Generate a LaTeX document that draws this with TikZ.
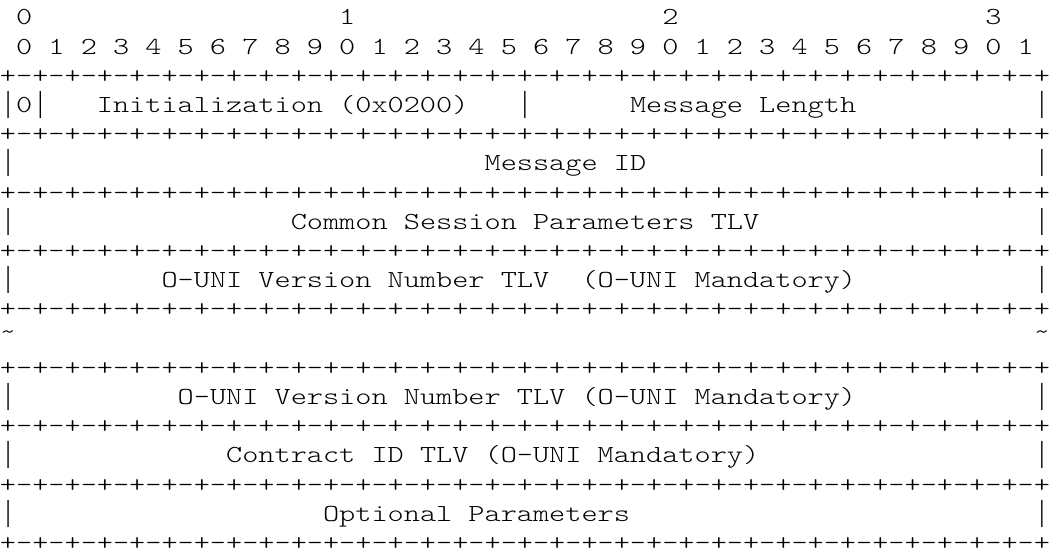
\documentclass[tikz,border=0pt]{standalone}
\usepackage{fontspec}
\usepackage{graphicx}
\newfontfamily\asciimono{lmmonolt10-regular.otf}
\newfontfamily\barmono{Liberation Mono}
\tikzset{cell/.style={anchor=base west, inner sep=0pt, outer sep=0pt,
  font=\asciimono\fontsize{24.5pt}{29pt}\selectfont\frenchspacing}}
% column #2 (0..64), row #3 (0..18)
\newcommand\cellat[4]{\node[cell] (#1) at ({#2*16.15385pt},{530pt-#3*29.19pt}) {\scalebox{1.25588}[1]{#4}};}
% a thin, tall vertical bar character centred in one column
\newcommand\vbar{\makebox[12.8625pt]{\barmono\fontsize{26.92pt}{29pt}\selectfont\scalebox{0.5}[1.08]{|}}}
\newcommand\gridrow{+-+-+-+-+-+-+-+-+-+-+-+-+-+-+-+-+-+-+-+-+-+-+-+-+-+-+-+-+-+-+-+-+}
\begin{document}
\begin{tikzpicture}[x=1pt,y=1pt]
\path[fill=white] (0,0) rectangle (1050,555);
\useasboundingbox (0,0) rectangle (1050,555);
% header
\cellat{h0}{1}{0}{0}
\cellat{h1}{21}{0}{1}
\cellat{h2}{41}{0}{2}
\cellat{h3}{61}{0}{3}
\cellat{bits}{1}{1}{0 1 2 3 4 5 6 7 8 9 0 1 2 3 4 5 6 7 8 9 0 1 2 3 4 5 6 7 8 9 0 1}
% grid lines
\cellat{g2}{0}{2}{\gridrow}
\cellat{g4}{0}{4}{\gridrow}
\cellat{g6}{0}{6}{\gridrow}
\cellat{g8}{0}{8}{\gridrow}
\cellat{g10}{0}{10}{\gridrow}
\cellat{g12}{0}{12}{\gridrow}
\cellat{g14}{0}{14}{\gridrow}
\cellat{g16}{0}{16}{\gridrow}
\cellat{g18}{0}{18}{\gridrow}
% row 3
\cellat{r3a}{0}{3}{\vbar}
\cellat{r3z}{1}{3}{0}
\cellat{r3y}{2}{3}{\vbar}
\cellat{r3b}{6}{3}{Initialization (0x0200)}
\cellat{r3c}{32}{3}{\vbar}
\cellat{r3d}{39}{3}{Message Length}
\cellat{r3e}{64}{3}{\vbar}
% row 5
\cellat{r5a}{0}{5}{\vbar}
\cellat{r5b}{30}{5}{Message ID}
\cellat{r5c}{64}{5}{\vbar}
% row 7
\cellat{r7a}{0}{7}{\vbar}
\cellat{r7b}{18}{7}{Common Session Parameters TLV}
\cellat{r7c}{64}{7}{\vbar}
% row 9
\cellat{r9a}{0}{9}{\vbar}
\cellat{r9b}{10}{9}{O-UNI Version Number TLV\ \ (O-UNI Mandatory)}
\cellat{r9c}{64}{9}{\vbar}
% row 11
\cellat{r11a}{0}{11}{\raisebox{7pt}{\textasciitilde}}
\cellat{r11b}{64}{11}{\raisebox{7pt}{\textasciitilde}}
% row 13
\cellat{r13a}{0}{13}{\vbar}
\cellat{r13b}{11}{13}{O-UNI Version Number TLV (O-UNI Mandatory)}
\cellat{r13c}{64}{13}{\vbar}
% row 15
\cellat{r15a}{0}{15}{\vbar}
\cellat{r15b}{14}{15}{Contract ID TLV (O-UNI Mandatory)}
\cellat{r15c}{64}{15}{\vbar}
% row 17
\cellat{r17a}{0}{17}{\vbar}
\cellat{r17b}{20}{17}{Optional Parameters}
\cellat{r17c}{64}{17}{\vbar}
\end{tikzpicture}
\end{document}
